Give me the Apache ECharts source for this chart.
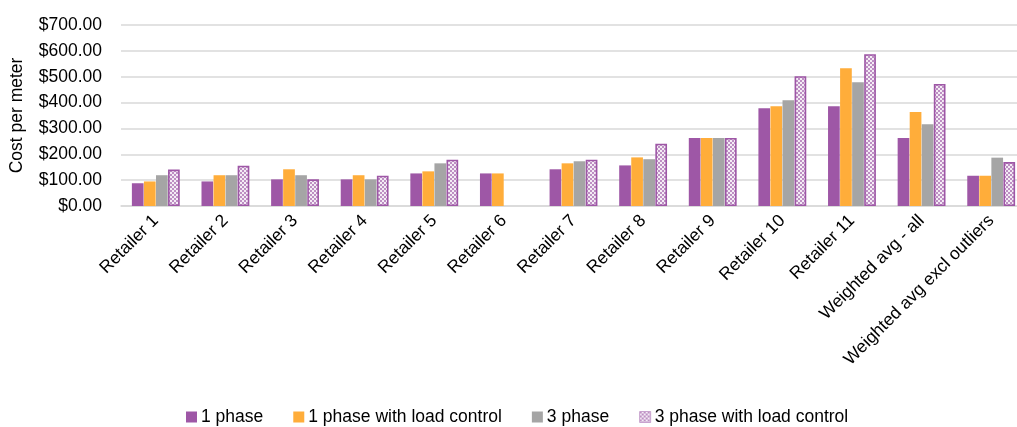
<!DOCTYPE html>
<html>
<head>
<meta charset="utf-8">
<script src="https://cdn.jsdelivr.net/npm/echarts@6/dist/echarts.min.js"></script>
<style>html,body{margin:0;padding:0;background:#fff}#c{width:1017px;height:427px}</style>
</head>
<body>
<div id="c"></div>
<script>
const categories = ["Retailer 1","Retailer 2","Retailer 3","Retailer 4","Retailer 5","Retailer 6","Retailer 7","Retailer 8","Retailer 9","Retailer 10","Retailer 11","Weighted avg - all","Weighted avg excl outliers"];
const seriesNames = ["1 phase","1 phase with load control","3 phase","3 phase with load control"];
const onePhase = [88, 95, 103, 103, 126, 126, 142, 157, 263, 378, 386, 263, 117];
const onePhaseLC = [95, 119, 142, 119, 134, 126, 165, 188, 263, 386, 533, 364, 117];
const threePhase = [119, 119, 119, 103, 165, null, 173, 181, 263, 409, 479, 316, 187];
const threePhaseLC = [141, 156, 103, 117, 179, null, 179, 241, 263, 502, 587, 472, 170];
const yTicks = [0, 100, 200, 300, 400, 500, 600, 700];

const FONT = '"Liberation Sans", Arial, sans-serif';
const FS = 17.5;
const purple = '#9E57A6', orange = '#FFAD3A', grey = '#A5A5A5';

function makePattern() {
  const cv = document.createElement('canvas');
  cv.width = 4; cv.height = 4;
  const ctx = cv.getContext('2d');
  ctx.fillStyle = '#F4ECF5'; ctx.fillRect(0,0,4,4);
  ctx.fillStyle = '#BD8FC3';
  ctx.fillRect(0,0,2,2); ctx.fillRect(2,2,2,2);
  return cv;
}
const pattern = { image: makePattern(), repeat: 'repeat' };

const chart = echarts.init(document.getElementById('c'), null, {renderer: 'canvas'});
const dataArr = [onePhase, onePhaseLC, threePhase, threePhaseLC];
const colors = [purple, orange, grey, pattern];
const series = dataArr.map((d, i) => ({
  name: seriesNames[i],
  type: 'bar',
  data: d,
  barWidth: 11.7,
  barGap: '3%',
  itemStyle: i === 3 ? { color: pattern, borderColor: purple, borderWidth: 1.6 } : { color: colors[i] },
  emphasis: { disabled: true }
}));

chart.setOption({
  animation: false,
  textStyle: { fontFamily: FONT },
  grid: { left: 121, top: 25, width: 905, height: 181, containLabel: false, outerBoundsMode: 'none' },
  legend: {
    bottom: -4, left: 181,
    itemWidth: 11, itemHeight: 11, itemGap: 30,
    icon: 'rect',
    textStyle: { fontFamily: FONT, fontSize: FS, color: '#000', padding: [0,0,0,-1] },
    data: seriesNames.map((n, i) => i === 3 ? { name: n, itemStyle: { color: pattern, borderColor: '#C9A3CF', borderWidth: 1 } } : { name: n })
  },
  color: [purple, orange, grey, purple],
  xAxis: {
    type: 'category',
    data: categories,
    axisLine: { show: true, lineStyle: { color: '#D9D9D9', width: 1.5 } },
    axisTick: { show: false },
    axisLabel: { rotate: 45, interval: 0, fontFamily: FONT, fontSize: FS, color: '#000', margin: 12 }
  },
  yAxis: {
    type: 'value',
    min: 0, max: 700, interval: 100,
    name: 'Cost per meter',
    nameLocation: 'middle',
    nameGap: 95,
    nameTextStyle: { fontFamily: FONT, fontSize: FS, color: '#000' },
    axisLine: { show: false },
    axisTick: { show: false },
    axisLabel: { fontFamily: FONT, fontSize: FS, color: '#000', margin: 19, formatter: v => '$' + v.toFixed(2) },
    splitLine: { lineStyle: { color: '#D9D9D9', width: 1.5 } }
  },
  series: series
});
</script>
</body>
</html>
